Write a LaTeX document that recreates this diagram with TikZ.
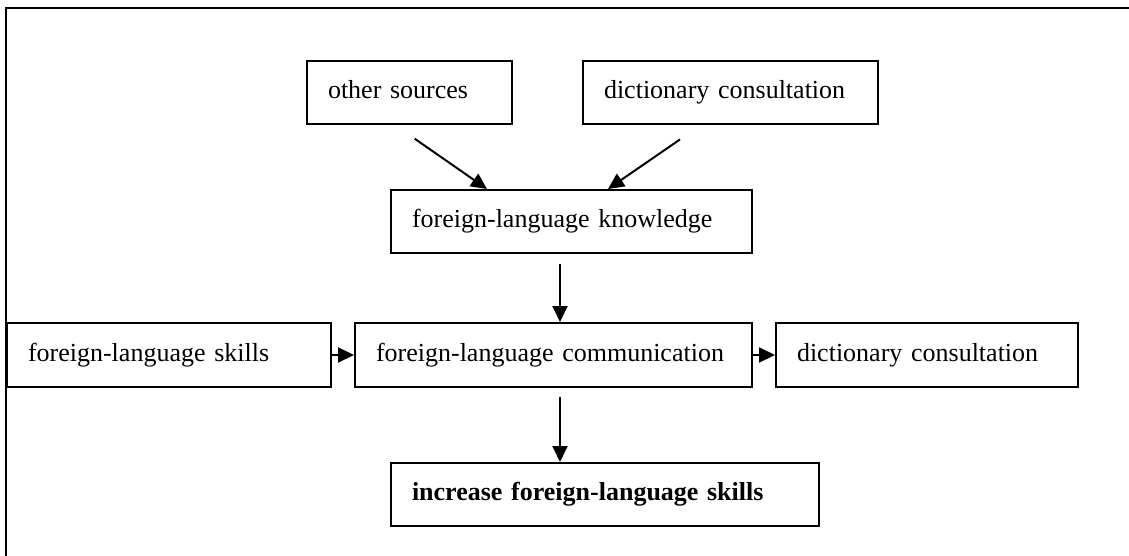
\documentclass[tikz,border=0pt]{standalone}
\usepackage{fontspec}
\setmainfont{Liberation Serif}
\usetikzlibrary{arrows.meta}
\begin{document}
\begin{tikzpicture}[x=1pt,y=-1pt,
  box/.style={draw, line width=2pt, rectangle, anchor=north west, inner xsep=21pt, inner ysep=0pt,
    text height=18pt, text depth=6pt,
    minimum height=63pt, align=left, font=\fontsize{26pt}{30pt}\selectfont},
  arr/.style={line width=2pt, -{Triangle[length=16pt,width=15pt]}},
  frameline/.style={line width=2.6pt}
]
\useasboundingbox (0,0) rectangle (1129,556);
\draw[frameline] (6,556) -- (6,8) -- (1129,8);

\node[box, text width=163pt] (os) at (306,60) {other sources};
\node[box, text width=253pt] (dc1) at (582,60) {dictionary consultation};
\node[box, text width=319pt] (flk) at (390,189) {foreign-language knowledge};
\node[box, text width=282pt, minimum height=64pt] (fls) at (6,322) {foreign-language skills};
\node[box, text width=355pt, minimum height=64pt] (flc) at (354,322) {foreign-language communication};
\node[box, text width=260pt, minimum height=64pt] (dc2) at (775,322) {dictionary consultation};
\node[box, text width=386pt] (inc) at (390,462) {\bfseries increase foreign-language skills};

\draw[arr, shorten <=24pt] ([xshift=-14.5pt]os.south) -- ([xshift=-84.5pt]flk.north);
\draw[arr, shorten <=25.5pt] ([xshift=-29.5pt]dc1.south) -- ([xshift=36.5pt]flk.north);
\draw[arr, shorten <=10pt] ([xshift=-11.5pt]flk.south) -- ([xshift=-11.5pt]flk.south |- flc.north);
\draw[arr, shorten <=9pt] ([xshift=6.5pt]flc.south) -- ([xshift=6.5pt]flc.south |- inc.north);
\draw[arr] (fls) -- (flc);
\draw[arr] (flc) -- (dc2);
\end{tikzpicture}
\end{document}
